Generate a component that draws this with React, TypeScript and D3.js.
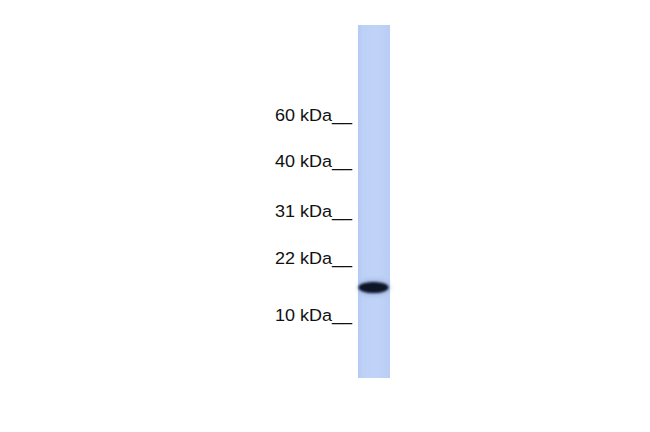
import React from 'react'
import * as d3 from 'd3'

// marker ladder (kDa) and the labels printed next to the lane
const markerKDa = [60, 40, 31, 22, 10]
const markerLabels = ['60 kDa', '40 kDa', '31 kDa', '22 kDa', '10 kDa']

// detected bands in the single lane
const bandKDa = [16]
const bandIntensity = [1]

const W = 650
const H = 432

const App: React.FC = () => {
  // migration scale calibrated on the ladder (piecewise log)
  const y = d3.scaleLog()
    .domain(markerKDa)
    .range([121, 167, 217, 264, 321])

  const lane = { x0: 358, x1: 390, y0: 25, y1: 378 }
  const laneMid = (lane.x0 + lane.x1) / 2

  const shade = d3.scaleLinear<string>()
    .domain([0, 1])
    .range(['#3b4f80', '#081228'])

  return (
    <svg width={W} height={H} style={{ position: 'absolute', left: 0, top: 0, background: '#fff' }}>
      <defs>
        <linearGradient id="laneGrad" x1="0" x2="1" y1="0" y2="0">
          <stop offset="0" stopColor="#b5c9f2" />
          <stop offset="0.15" stopColor="#bdd0f6" />
          <stop offset="0.6" stopColor="#c0d3f7" />
          <stop offset="1" stopColor="#b9ccf3" />
        </linearGradient>
        <filter id="blur" x="-30%" y="-80%" width="160%" height="260%">
          <feGaussianBlur stdDeviation="1.2" />
        </filter>
        <filter id="halo" x="-30%" y="-100%" width="160%" height="300%">
          <feGaussianBlur stdDeviation="2.5" />
        </filter>
      </defs>

      <rect x={lane.x0} y={lane.y0} width={lane.x1 - lane.x0} height={lane.y1 - lane.y0} fill="url(#laneGrad)" />

      {bandKDa.map((k, i) => (
        <g key={i}>
          <ellipse cx={laneMid} cy={y(k) + 0.5} rx={16} ry={7.5} fill="#6f86bd" opacity={0.45} filter="url(#halo)" />
          <ellipse cx={laneMid - 0.5} cy={y(k) + 0.5} rx={15} ry={5.6} fill={shade(bandIntensity[i])} filter="url(#blur)" />
        </g>
      ))}

      {markerKDa.map((k, i) => (
        <text
          key={k}
          transform={`translate(352,${y(k)}) scale(1.06,1)`}
          textAnchor="end"
          fontFamily="'Liberation Sans', Arial, sans-serif"
          fontSize={17}
          fill="#111"
        >
          {markerLabels[i] + '__'}
        </text>
      ))}
    </svg>
  )
}

export default App
